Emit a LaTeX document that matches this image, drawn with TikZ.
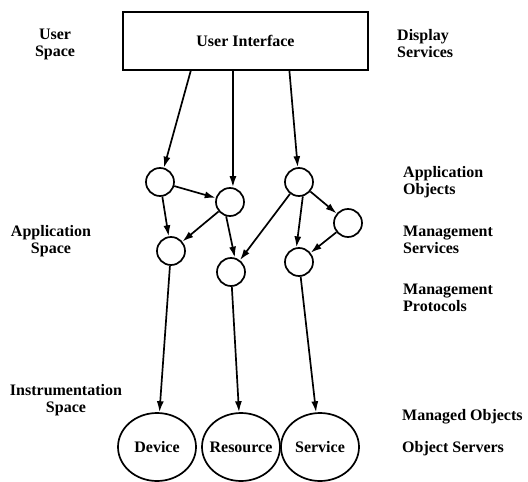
\documentclass[tikz,border=0pt]{standalone}
\usepackage{fontspec}
\setmainfont{Liberation Serif}
\usetikzlibrary{arrows.meta,shapes.geometric,calc}

\tikzset{
  lbl/.style={font=\fontsize{16}{17}\selectfont\bfseries, inner sep=0pt},
  lblL/.style={lbl, align=left, anchor=west},
  lblC/.style={lbl, align=center},
  uibox/.style={draw, line width=1.7pt, minimum width=245pt, minimum height=58pt,
                font=\fontsize{16}{17}\selectfont\bfseries},
  obj/.style={circle, draw, line width=1.7pt, minimum size=28pt, inner sep=0pt},
  srv/.style={ellipse, draw, line width=1.7pt, minimum width=78pt, minimum height=68pt,
              inner sep=0pt, font=\fontsize{16}{17}\selectfont\bfseries},
  link/.style={line width=1.7pt, -{Latex[length=11pt,width=7pt]}}
}

\begin{document}
\begin{tikzpicture}[x=1pt, y=-1pt]
  \useasboundingbox (0,0) rectangle (528,482);

  % user interface box
  \node[uibox] (ui) at (245.5,41) {User Interface};

  % application objects
  \node[obj] (c1) at (160,182) {};
  \node[obj] (c2) at (230,202) {};
  \node[obj] (c3) at (299,182) {};
  \node[obj] (c4) at (348,223) {};
  \node[obj] (c5) at (171,251) {};
  \node[obj] (c6) at (231,272) {};
  \node[obj] (c7) at (299,262) {};

  % object servers
  \node[srv] (dev) at (157,447) {\makebox[0pt]{Device}};
  \node[srv] (res) at (241,447) {\makebox[0pt]{Resource}};
  \node[srv] (svc) at (320,447) {\makebox[0pt]{Service}};

  % connections from the user interface
  \coordinate (u1) at ($(ui.south west)!0.278!(ui.south east)$);
  \coordinate (u2) at ($(ui.south west)!0.449!(ui.south east)$);
  \coordinate (u3) at ($(ui.south west)!0.678!(ui.south east)$);
  \draw[link] (u1) -- (c1);
  \draw[link] (u2) -- (u2 |- c2.north);
  \draw[link] (u3) -- (c3);

  % management services
  \draw[link] (c1) -- (c2);
  \draw[link] (c1) -- (c5);
  \draw[link] (c2) -- (c5);
  \draw[link] (c2.-105) -- (c6.75);
  \draw[link] (c3) -- (c6);
  \draw[link] (c3.-75) -- (c7.100);
  \draw[link] (c3) -- (c4);
  \draw[link] (c4) -- (c7);

  % management protocols
  \draw[link] (c5) -- (dev);
  \draw[link] (c6) -- (res);
  \draw[link] (c7) -- (svc);

  % left-hand labels
  \node[lblC] (lus) at (55,44) {User\\Space};
  \node[lblC] (las) at (51,241) {Application\\Space};
  \node[lblC] (lis) at (66,400) {Instrumentation\\Space};

  % right-hand labels
  \node[lblL] (rds) at (397,44) {Display\\Services};
  \node[lblL] (rao) at (403,182) {Application\\Objects};
  \node[lblL] (rms) at (403,240) {Management\\Services};
  \node[lblL] (rmp) at (403,298) {Management\\Protocols};
  \node[lblL] (rmo) at (402,417) {Managed Objects};
  \node[lblL] (ros) at (402,449) {Object Servers};
\end{tikzpicture}
\end{document}
